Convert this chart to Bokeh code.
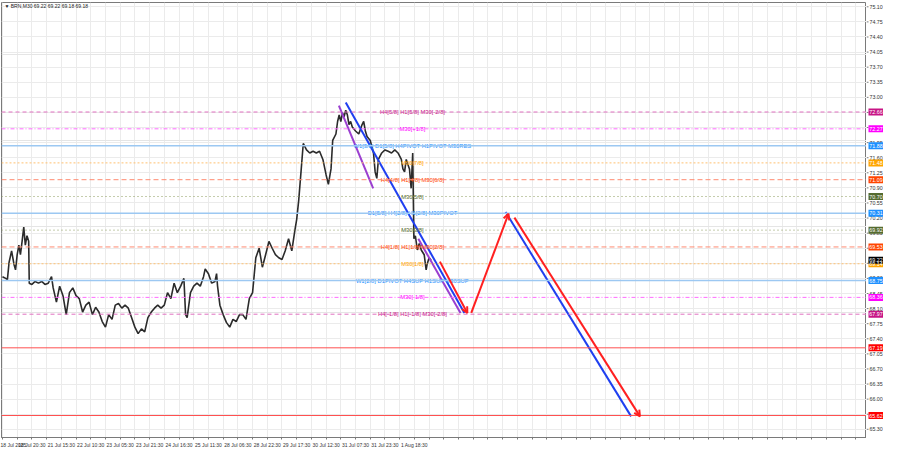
from bokeh.plotting import figure
from bokeh.layouts import row
from bokeh.models import Range1d, FixedTicker, Span, Label, Arrow, OpenHead, ColumnDataSource, Grid
from bokeh.embed import file_html
from bokeh.resources import INLINE
from bokeh.core.properties import value

# ---------------- data ----------------
bar_x = [0, 3.3, 5, 6.7, 9.3, 11.7, 13.3, 15, 16.7, 18.3, 20, 21.7, 23.3, 25, 26.7, 27.3, 30, 33.3, 36.7, 40,
         43.3, 46.7, 50, 51.7, 55, 58.3, 61.7, 65, 68.3, 71.7, 75, 78.3, 81.7, 85, 88.3, 91.7, 95, 98.3, 101.7,
         105, 108.3, 111.7, 115, 118.3, 121.7, 125, 128.3, 131.7, 135, 138.3, 141.7, 145, 148.3, 151.7, 155,
         158.3, 161.7, 165, 168.3, 171.7, 175, 178.3, 181.7, 185, 186.7, 188.3, 191.7, 195, 198.3, 201.7, 205,
         206.7, 210, 213.3, 216.7, 218.3, 219.3, 221.7, 225, 228.3, 231.7, 235, 238.3, 241.7, 245, 248.3, 251.7,
         255, 258.3, 261.7, 265, 268.3, 271.7, 275, 278.3, 281.7, 285, 288.3, 291.7, 295, 298.3, 300, 302,
         304.5, 306.7, 310, 313.3, 316.7, 320, 323.3, 326.7, 330, 332.3, 335, 336.7, 340, 341.7, 343.3, 345,
         346.7, 348.3, 350, 351.7, 353.3, 355, 356.7, 360, 363.3, 366.7, 368.3, 370, 371.7, 375, 378.3, 380,
         381.7, 383.3, 386.7, 390, 393.3, 396.7, 400, 403.3, 406.7, 408.3, 410, 411.7, 413.3, 415, 416.7, 418.3,
         419.5, 421, 423, 425, 427, 430, 432, 433, 435, 437]
close = [68.84, 68.80, 68.77, 69.17, 69.44, 69.13, 69.00, 69.35, 69.57, 69.35, 69.66, 69.99, 69.57, 69.79, 69.66,
         68.69, 68.66, 68.73, 68.69, 68.73, 68.66, 68.69, 68.84, 68.58, 68.25, 68.62, 68.40, 67.96, 68.47, 68.58,
         68.40, 68.33, 68.02, 68.18, 68.25, 67.96, 68.13, 68.02, 67.80, 67.67, 67.96, 67.85, 68.18, 68.22, 68.11,
         68.18, 68.11, 67.89, 67.67, 67.52, 67.63, 67.56, 67.89, 68.02, 68.11, 68.18, 68.11, 68.18, 68.47, 68.33,
         68.69, 68.47, 68.62, 68.80, 67.96, 67.89, 68.47, 68.62, 68.69, 68.62, 68.84, 69.02, 68.91, 68.69, 68.73,
         68.91, 68.62, 68.18, 67.96, 67.78, 67.67, 67.85, 67.80, 67.96, 67.96, 67.85, 68.33, 68.47, 69.28, 69.50,
         69.06, 69.35, 69.66, 69.50, 69.35, 69.28, 69.24, 69.44, 69.72, 69.44, 69.94, 70.17, 70.60, 71.30, 71.93,
         71.78, 71.71, 71.75, 71.71, 71.75, 71.56, 71.20, 70.98, 71.34, 72.00, 72.15, 72.44, 72.59, 72.44, 72.64,
         72.55, 72.70, 72.59, 72.37, 72.44, 72.31, 72.22, 72.15, 72.37, 72.44, 72.22, 72.09, 72.00, 71.71, 71.27,
         71.12, 71.56, 71.71, 71.78, 71.75, 71.71, 71.78, 71.71, 71.56, 71.34, 71.27, 71.56, 71.45, 71.34, 70.89,
         71.71, 69.72, 69.79, 69.46, 69.61, 69.46, 69.35, 69.00, 69.13, 69.28, 69.22]

level_price = [72.66, 72.27, 71.88, 71.48, 71.09, 70.70, 70.31, 69.92, 69.53, 69.14, 68.75, 68.36, 67.97, 67.19, 65.62]
level_text = ["H4[5/8] H1[5/8] M30[-2/8]", "M30[+1/8]", "W1[3/8] D1[5/8] H4PIVOT H1PIVOT M30RES", "M30[7/8]",
              "H4[4/8] H1[4/8] M30[6/8]", "M30[5/8]", "D1[5/8] H4[2/8] H1[2/8] M30PIVOT", "M30[3/8]",
              "H4[1/8] H1[1/8] M30[2/8]", "M30[1/8]", "W1[2/8] D1PIVOT H4SUP H1SUP M30SUP", "M30[-1/8]",
              "H4[-1/8] H1[-1/8] M30[-2/8]", "", ""]
level_kind = ["outer", "extra", "pivot", "minor", "major", "olive", "pivot", "olive", "major", "minor", "pivot",
              "extra", "outer", "target", "target"]
level_text_bar = 418

current_price = 69.22
header = "\u25bc BRN,M30  69.22 69.22 69.18 69.18"

price_ticks = [75.10, 74.75, 74.40, 74.05, 73.70, 73.35, 73.00, 72.65, 72.30, 71.95, 71.60, 71.25, 70.90, 70.55,
               70.20, 69.85, 69.50, 69.15, 68.80, 68.45, 68.10, 67.75, 67.40, 67.05, 66.70, 66.35, 66.00, 65.65, 65.30]
time_labels = ["18 Jul 2025", "18 Jul 20:30", "21 Jul 15:30", "22 Jul 10:30", "23 Jul 05:30", "23 Jul 21:30",
               "24 Jul 16:30", "25 Jul 11:30", "28 Jul 06:30", "28 Jul 22:30", "29 Jul 17:30", "30 Jul 12:30",
               "31 Jul 07:30", "31 Jul 23:30", "1 Aug 18:30"]
bars_per_label = 30

# drawn channel lines (bar, price)
purple_x0 = [343, 424]
purple_y0 = [72.81, 69.72]
purple_x1 = [378, 467]
purple_y1 = [70.89, 68.00]
blue_x0 = [350, 513]
blue_y0 = [72.88, 70.34]
blue_x1 = [471, 641]
blue_y1 = [68.00, 65.60]
red_x0 = [446, 478, 522]
red_y0 = [69.19, 68.00, 70.21]
red_x1 = [474, 516, 650]
red_y1 = [68.00, 70.30, 65.60]

# ---------------- styles ----------------
FONT = "Liberation Sans"
style = {
    "outer": dict(line="#e070c0", dash="4 3", width=1, label="#c71585"),
    "extra": dict(line="#ff6cff", dash="4 2 1 2", width=1, label="#ff00ff"),
    "pivot": dict(line="#9cc8f2", dash="solid", width=1.5, label="#1e90ff"),
    "minor": dict(line="#ffc070", dash="2 2", width=1, label="#ffa500"),
    "major": dict(line="#ff8a70", dash="5 3", width=1, label="#ff4500"),
    "olive": dict(line="#8a9a5a", dash="1 3", width=1, label="#556b2f"),
    "target": dict(line="#ff5050", dash="solid", width=1, label="#ff0000"),
}
FRAME_COLOR = "#7a7a7a"

y_rng = Range1d(65.11, 75.20)

# ---------------- main chart ----------------
p = figure(width=866, height=451, output_backend="svg", toolbar_location=None,
           x_range=Range1d(-1, 881), y_range=y_rng,
           y_axis_location=None, min_border_left=1, min_border_top=2, min_border_bottom=14,
           min_border_right=0)
p.background_fill_color = "white"
p.border_fill_color = "white"
p.outline_line_color = FRAME_COLOR

grid_ticks = [i * bars_per_label / 2 for i in range(60)]
p.xaxis.ticker = FixedTicker(ticks=grid_ticks)
ov = {}
for i, t in enumerate(grid_ticks):
    k = i // 2
    ov[t] = time_labels[k] if (i % 2 == 0 and k < len(time_labels)) else ""
p.xaxis.major_label_overrides = ov
p.xaxis.major_label_text_align = "left"
p.xaxis.major_label_text_font_size = "5px"
p.xaxis.major_label_text_font = FONT
p.xaxis.major_label_text_color = "#333333"
p.xaxis.major_label_standoff = 2
p.xaxis.major_tick_out = 2
p.xaxis.major_tick_in = 0
p.xaxis.minor_tick_line_color = None
p.xaxis.axis_line_color = FRAME_COLOR
p.xaxis.major_tick_line_color = FRAME_COLOR
p.xgrid.grid_line_color = "#ebebeb"
p.add_layout(Grid(dimension=1, ticker=FixedTicker(ticks=price_ticks), grid_line_color="#ebebeb"))

# level lines
for price, kind in zip(level_price, level_kind):
    s = style[kind]
    p.add_layout(Span(location=price, dimension="width", line_color=s["line"],
                      line_dash=s["dash"], line_width=s["width"]))

# price series
p.line(bar_x, close, line_color="#2b2b2b", line_width=1.6)

# channel lines
p.segment(purple_x0, purple_y0, purple_x1, purple_y1, line_color="#9b3fd0", line_width=2)
p.segment(blue_x0, blue_y0, blue_x1, blue_y1, line_color="#1f3ff0", line_width=2)
red_src = ColumnDataSource(dict(x0=red_x0, y0=red_y0, x1=red_x1, y1=red_y1))
p.add_layout(Arrow(x_start="x0", y_start="y0", x_end="x1", y_end="y1", source=red_src,
                   line_color="#ff2020", line_width=2,
                   end=OpenHead(size=6, line_color="#ff2020", line_width=2)))

# level texts
txt = [(t, pr, style[k]["label"]) for t, pr, k in zip(level_text, level_price, level_kind) if t]
p.text(x=[level_text_bar] * len(txt), y=[a[1] for a in txt], text=[a[0] for a in txt],
       text_color=[a[2] for a in txt], text_font=value(FONT), text_font_size="5.8px",
       text_align="center", text_baseline="middle")

# header
p.add_layout(Label(x=2, y=75.13, text=header, text_color="#222222", text_font=FONT,
                   text_font_size="5px", text_baseline="middle"))

# ---------------- price scale ----------------
ps = figure(width=17, height=451, output_backend="svg", toolbar_location=None,
            x_range=Range1d(0, 17), y_range=y_rng, x_axis_location=None, y_axis_location=None,
            min_border_left=0, min_border_right=0, min_border_top=2, min_border_bottom=14)
ps.outline_line_color = None
ps.background_fill_color = "white"
ps.border_fill_color = "white"
ps.grid.visible = False

ps.segment(x0=[0] * len(price_ticks), y0=price_ticks, x1=[2] * len(price_ticks), y1=price_ticks,
           line_color=FRAME_COLOR, line_width=1)
ps.text(x=[3] * len(price_ticks), y=price_ticks, text=[f"{t:.2f}" for t in price_ticks],
        text_color="#333333", text_font=value(FONT), text_font_size="5.3px",
        text_align="left", text_baseline="middle")

box_prices = level_price + [current_price]
box_colors = [style[k]["label"] for k in level_kind] + ["#000000"]
ps.rect(x=[9.5] * len(box_prices), y=box_prices, width=15, height=7, height_units="screen",
        fill_color=box_colors, line_color=None)
ps.text(x=[9.5] * len(box_prices), y=box_prices, text=[f"{v:.2f}" for v in box_prices],
        text_color="white", text_font=value(FONT), text_font_size="5.3px",
        text_align="center", text_baseline="middle")

layout = row(p, ps, spacing=0)
open("out.html", "w").write(file_html(layout, INLINE))
